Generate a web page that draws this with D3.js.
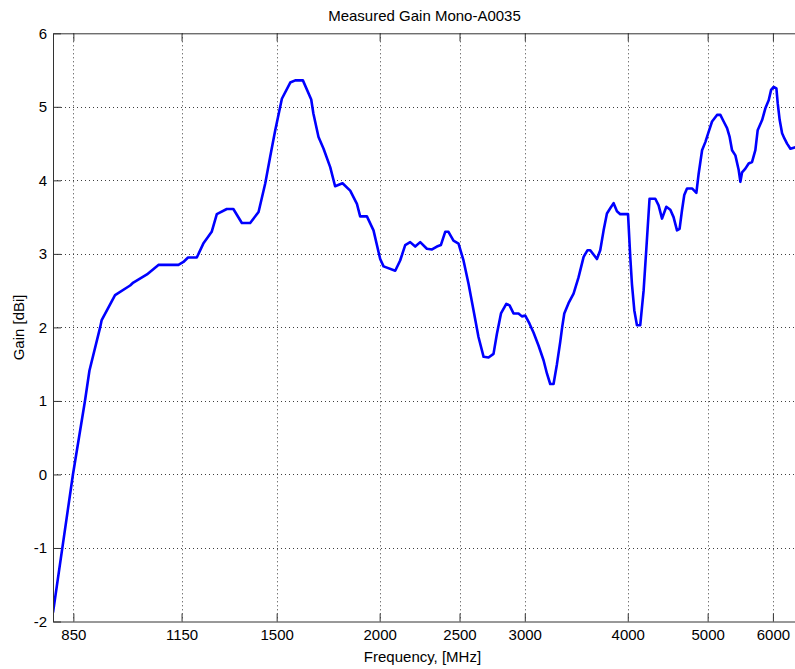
<!DOCTYPE html>
<html>
<head>
<meta charset="utf-8">
<script src="https://cdn.jsdelivr.net/npm/d3@7"></script>
<style>
  html, body { margin: 0; padding: 0; background: #fff; overflow: hidden; }
  svg { display: block; font-family: "Liberation Sans", Arial, Helvetica, sans-serif; }
</style>
</head>
<body>
<svg id="chart" width="795" height="669"></svg>
<script>
// ---- data ----
const title = "Measured Gain Mono-A0035";
const xLabel = "Frequency, [MHz]";
const yLabel = "Gain [dBi]";
const xTicks = [850, 1150, 1500, 2000, 2500, 3000, 4000, 5000, 6000];
const yTicks = [-2, -1, 0, 1, 2, 3, 4, 5, 6];
const xDomain = [803, 6400];
const yDomain = [-2, 6];

const freq = [
  803, 849, 878, 889, 916, 920, 955, 996, 1005, 1044, 1078, 1140, 1156, 1171, 1200,
  1222, 1251, 1269, 1305, 1329, 1361, 1393, 1426, 1453, 1473, 1494, 1522, 1558, 1580,
  1614, 1652, 1662, 1686, 1710, 1742, 1766, 1803, 1842, 1877, 1894, 1930, 1966, 2003,
  2022, 2089, 2118, 2148, 2178, 2209, 2240, 2282, 2315, 2347, 2373, 2402, 2424, 2458,
  2493, 2528, 2564, 2600, 2636, 2674, 2711, 2749, 2775, 2807, 2849, 2875, 2907, 2948,
  2976, 3004, 3040, 3074, 3118, 3162, 3192, 3221, 3251, 3282, 3312, 3330, 3350, 3390,
  3438, 3486, 3536, 3575, 3602, 3670, 3704, 3739, 3774, 3809, 3845, 3881, 3917, 4003,
  4028, 4047, 4074, 4104, 4142, 4181, 4212, 4251, 4320, 4360, 4402, 4455, 4505, 4546,
  4590, 4623, 4654, 4684, 4720, 4787, 4845, 4876, 4923, 4968, 5014, 5062, 5133, 5181,
  5229, 5279, 5317, 5353, 5403, 5453, 5479, 5505, 5556, 5607, 5661, 5713, 5750, 5822,
  5875, 5930, 5970, 6013, 6059, 6081, 6115, 6156, 6196, 6242, 6301, 6389
];
const gain = [
  -1.88, 0.00, 1.00, 1.41, 2.00, 2.10, 2.44, 2.57, 2.61, 2.72, 2.85, 2.85, 2.89, 2.95, 2.95,
  3.14, 3.30, 3.54, 3.61, 3.61, 3.42, 3.42, 3.57, 3.96, 4.32, 4.68, 5.11, 5.33, 5.36,
  5.36, 5.10, 4.91, 4.59, 4.43, 4.18, 3.92, 3.96, 3.86, 3.68, 3.51, 3.51, 3.32, 2.93,
  2.83, 2.77, 2.91, 3.12, 3.16, 3.10, 3.16, 3.07, 3.06, 3.10, 3.12, 3.30, 3.30, 3.18,
  3.14, 2.91, 2.59, 2.23, 1.87, 1.60, 1.59, 1.64, 1.91, 2.19, 2.32, 2.30, 2.19, 2.19,
  2.15, 2.16, 2.05, 1.93, 1.75, 1.55, 1.37, 1.23, 1.23, 1.50, 1.80, 2.00, 2.19, 2.33,
  2.46, 2.68, 2.96, 3.05, 3.05, 2.93, 3.05, 3.32, 3.55, 3.62, 3.69, 3.58, 3.54, 3.54,
  2.96, 2.59, 2.23, 2.03, 2.03, 2.50, 3.05, 3.75, 3.75, 3.66, 3.48, 3.64, 3.60, 3.50,
  3.32, 3.34, 3.59, 3.80, 3.89, 3.89, 3.83, 4.09, 4.41, 4.52, 4.66, 4.80, 4.89, 4.89,
  4.80, 4.71, 4.59, 4.41, 4.34, 4.14, 3.98, 4.11, 4.16, 4.23, 4.25, 4.41, 4.68, 4.82,
  4.98, 5.09, 5.23, 5.27, 5.25, 5.05, 4.82, 4.64, 4.57, 4.50, 4.43, 4.45
];

// ---- layout ----
const svg = d3.select("#chart");
const mLeft = 53, mRight = 796, mTop = 33.3, mBottom = 621.5;
const x = d3.scaleLog().domain(xDomain).range([mLeft, mRight]);
const y = d3.scaleLinear().domain(yDomain).range([mBottom, mTop]);

svg.append("rect").attr("width", 795).attr("height", 669).attr("fill", "#fff");

// grid
const grid = svg.append("g").attr("stroke", "#000").attr("stroke-width", 1)
  .attr("stroke-dasharray", "1,3").attr("opacity", 0.75);
grid.selectAll("line.v").data(xTicks).join("line").attr("class", "v")
  .attr("x1", d => Math.round(x(d)) + 0.5).attr("x2", d => Math.round(x(d)) + 0.5)
  .attr("y1", mTop).attr("y2", mBottom);
grid.selectAll("line.h").data(yTicks.filter(d => d > yDomain[0] && d < yDomain[1])).join("line").attr("class", "h")
  .attr("y1", d => Math.round(y(d)) + 0.5).attr("y2", d => Math.round(y(d)) + 0.5)
  .attr("x1", mLeft).attr("x2", mRight);

// curve
const pts = freq.map((f, i) => [f, gain[i]]);
svg.append("defs").append("clipPath").attr("id", "clip")
  .append("rect").attr("x", mLeft).attr("y", mTop).attr("width", mRight - mLeft).attr("height", mBottom - mTop);
svg.append("path").datum(pts)
  .attr("clip-path", "url(#clip)")
  .attr("fill", "none").attr("stroke", "#0000ff").attr("stroke-width", 2.6)
  .attr("stroke-linejoin", "round")
  .attr("d", d3.line().x(d => x(d[0])).y(d => y(d[1])));

// axes
const axisColor = "#333";
const plain = d => String(d);
function style(g) {
  g.selectAll("path, line").attr("stroke", axisColor);
  g.selectAll("text").attr("fill", "#000").attr("font-size", 15)
    .attr("font-family", "'Liberation Sans', Arial, Helvetica, sans-serif");
}
svg.append("g").attr("transform", `translate(0,${mBottom})`)
  .call(d3.axisBottom(x).tickValues(xTicks).tickFormat(plain)
    .tickSizeInner(-8).tickSizeOuter(0).tickPadding(8))
  .call(style);
svg.append("g").attr("transform", `translate(0,${mTop})`)
  .call(d3.axisTop(x).tickValues(xTicks).tickFormat("")
    .tickSizeInner(-8).tickSizeOuter(0))
  .call(style);
svg.append("g").attr("transform", `translate(${mLeft},0)`)
  .call(d3.axisLeft(y).tickValues(yTicks).tickFormat(plain)
    .tickSizeInner(-8).tickSizeOuter(0).tickPadding(6))
  .call(style);

// labels
svg.append("text").attr("x", (mLeft + mRight) / 2).attr("y", 21)
  .attr("text-anchor", "middle").attr("font-size", 15).text(title);
svg.append("text").attr("x", (mLeft + mRight) / 2 - 2).attr("y", 662)
  .attr("text-anchor", "middle").attr("font-size", 15).text(xLabel);
svg.append("text").attr("transform", `translate(24,${(mTop + mBottom) / 2}) rotate(-90)`)
  .attr("text-anchor", "middle").attr("font-size", 15).text(yLabel);
</script>
</body>
</html>
